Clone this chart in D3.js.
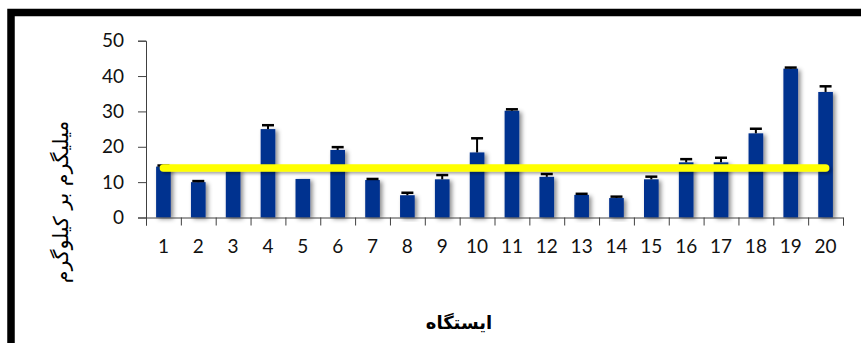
<!DOCTYPE html>
<html>
<head>
<meta charset="utf-8">
<script src="https://cdn.jsdelivr.net/npm/d3@7"></script>
<style>
  html, body { margin: 0; padding: 0; background: #fff; }
  svg { display: block; }
</style>
</head>
<body>
<svg id="chart" width="861" height="343"></svg>
<script>
// ---- data ----
const stations = ["1","2","3","4","5","6","7","8","9","10","11","12","13","14","15","16","17","18","19","20"];
const means    = [14.4, 10.0, 13.5, 25.0, 10.9, 19.1, 10.6, 6.3, 10.8, 18.4, 30.2, 11.5, 6.4, 5.5, 10.8, 15.6, 15.6, 23.8, 42.1, 35.5];
const errors   = [0.3, 0.3, 0.3, 1.1, 0.0, 0.8, 0.3, 0.7, 1.2, 4.0, 0.4, 0.8, 0.3, 0.4, 0.75, 0.9, 1.3, 1.3, 0.3, 1.6];
const referenceValue = 14.0;
const yTicks = [0, 10, 20, 30, 40, 50];
const yTitle = "میلیگرم بر کیلوگرم";
const xTitle = "ایستگاه";

// ---- layout ----
const svg = d3.select("#chart");
const plotLeft = 146, plotRight = 843, plotTop = 40.7, plotBottom = 217.5;

const defs = svg.append("defs");
const f = defs.append("filter").attr("id", "shadow")
  .attr("x", "-50%").attr("y", "-20%").attr("width", "200%").attr("height", "140%");
f.append("feDropShadow").attr("dx", 2.5).attr("dy", 1.5).attr("stdDeviation", 2)
  .attr("flood-color", "#000").attr("flood-opacity", 0.45);
const f2 = defs.append("filter").attr("id", "lineShadow").attr("filterUnits", "userSpaceOnUse")
  .attr("x", 0).attr("y", 0).attr("width", 861).attr("height", 343);
f2.append("feDropShadow").attr("dx", 2).attr("dy", 2).attr("stdDeviation", 1.5)
  .attr("flood-color", "#000").attr("flood-opacity", 0.35);

// frame
svg.append("rect").attr("x", 11).attr("y", 12.5).attr("width", 900).attr("height", 400)
  .attr("fill", "none").attr("stroke", "#000").attr("stroke-width", 7.5);

const x = d3.scaleBand().domain(stations).range([plotLeft, plotRight]).paddingInner(0.58).paddingOuter(0.29);
const xb = d3.scaleLinear().domain([0, stations.length]).range([plotLeft, plotRight]);
const y = d3.scaleLinear().domain([0, 50]).range([plotBottom, plotTop]);

// bars
svg.append("g").selectAll("rect").data(stations).join("rect")
  .attr("x", d => x(d))
  .attr("y", (d, i) => y(means[i]))
  .attr("width", x.bandwidth())
  .attr("height", (d, i) => y(0) - y(means[i]))
  .attr("fill", "#00308f")
  .attr("filter", "url(#shadow)");

// error bars (upper only)
const eg = svg.append("g").attr("stroke", "#000").attr("stroke-width", 2);
stations.forEach((d, i) => {
  if (errors[i] <= 0) return;
  const cx = x(d) + x.bandwidth() / 2;
  eg.append("line").attr("x1", cx).attr("x2", cx).attr("y1", y(means[i])).attr("y2", y(means[i] + errors[i]));
  eg.append("line").attr("x1", cx - 6).attr("x2", cx + 6).attr("y1", y(means[i] + errors[i])).attr("y2", y(means[i] + errors[i]))
    .attr("stroke-width", 2.5);
});

// y axis
const yAxis = svg.append("g").attr("transform", `translate(${plotLeft},0)`)
  .call(d3.axisLeft(y).tickValues(yTicks).tickSize(8).tickPadding(14).tickFormat(d3.format("d")));
yAxis.select(".domain").attr("stroke", "#404040");
yAxis.selectAll(".tick line").attr("stroke", "#404040");
yAxis.selectAll("text").attr("font-family", "Lato, 'Open Sans', sans-serif").attr("font-size", 19).attr("fill", "#111");

// x axis boundary ticks
const xAxis = svg.append("g").attr("transform", `translate(0,${plotBottom})`)
  .call(d3.axisBottom(xb).tickValues(d3.range(0, stations.length + 1)).tickSize(8).tickFormat(""));
xAxis.select(".domain").attr("stroke", "#404040");
xAxis.selectAll(".tick line").attr("stroke", "#404040");

// x category labels
const xLab = svg.append("g").attr("transform", `translate(0,${plotBottom})`)
  .call(d3.axisBottom(x).tickSize(0).tickPadding(22));
xLab.select(".domain").remove();
xLab.selectAll("text").attr("font-family", "Lato, 'Open Sans', sans-serif").attr("font-size", 19).attr("fill", "#111");

// reference line
const lineGen = d3.line().x(d => x(d) + x.bandwidth() / 2).y(() => y(referenceValue));
svg.append("path").datum([stations[0], stations[stations.length - 1]])
  .attr("d", lineGen)
  .attr("fill", "none").attr("stroke", "#ffff00").attr("stroke-width", 7.5)
  .attr("stroke-linecap", "round").attr("filter", "url(#lineShadow)");

// titles
svg.append("text").attr("transform", "translate(68,202) rotate(-90)")
  .attr("text-anchor", "middle").attr("font-family", "'DejaVu Sans', sans-serif")
  .attr("font-size", 20.5).attr("direction", "rtl").attr("fill", "#000")
  .text(yTitle);
svg.append("text").attr("x", 459).attr("y", 329)
  .attr("text-anchor", "middle").attr("font-family", "'DejaVu Sans', sans-serif")
  .attr("font-size", 18).attr("font-weight", "bold").attr("direction", "rtl").attr("fill", "#000")
  .text(xTitle);
</script>
</body>
</html>
